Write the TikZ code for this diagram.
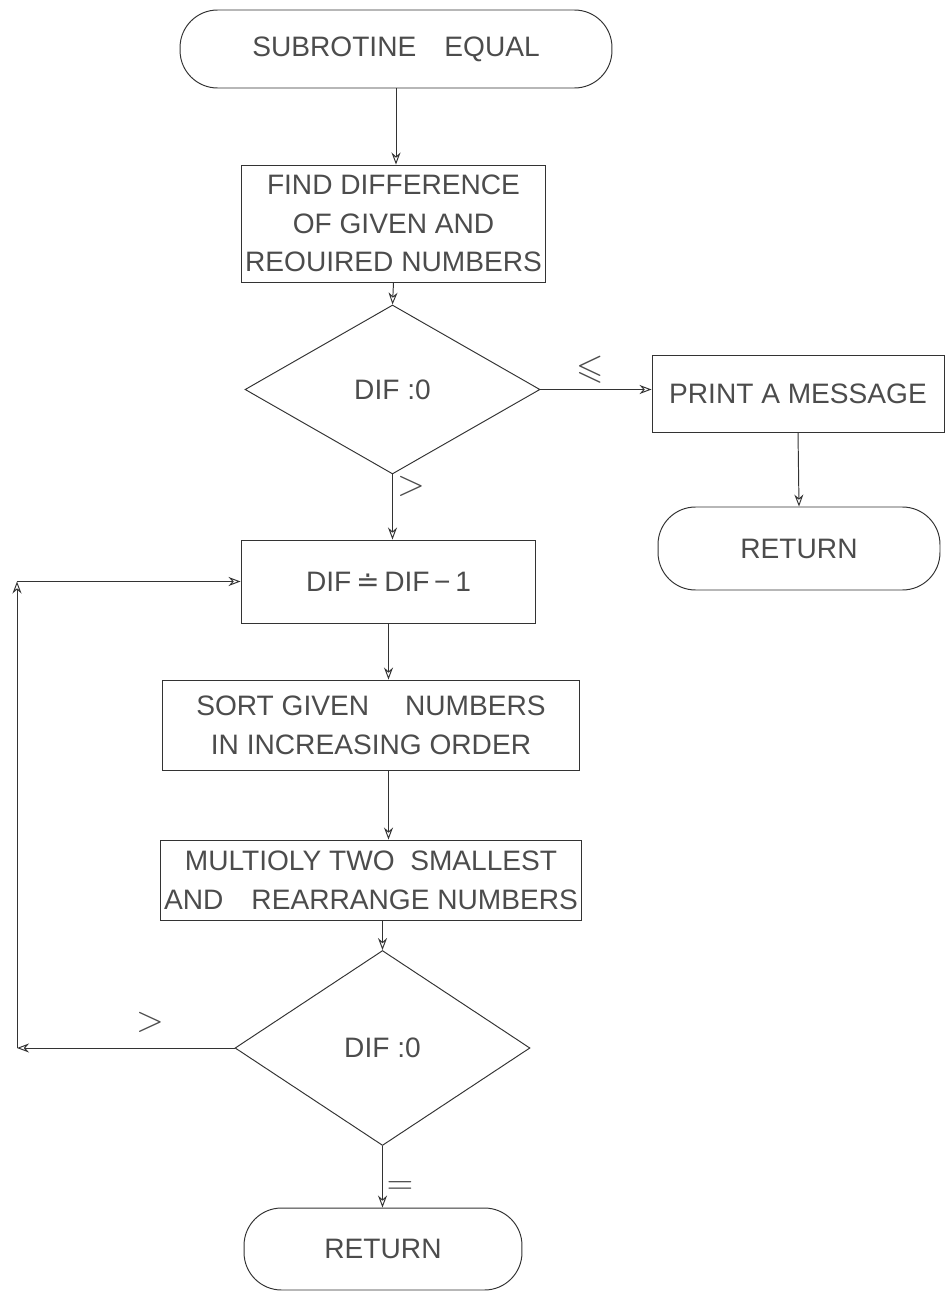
\documentclass[tikz,border=0pt]{standalone}
\usepackage{fontspec}
\usepackage{amssymb}
\setmainfont{Liberation Sans}
\newfontfamily\symfont{DejaVu Sans}
\usetikzlibrary{shapes.geometric,arrows.meta}

\begin{document}
\begin{tikzpicture}[x=0.02cm,y=-0.02cm,
			every node/.style={font=\fontsize{16}{22}\selectfont,text=black!70,inner sep=2pt},
			box/.style={draw=black!80,line width=0.55pt,rectangle,align=center},
			term/.style={box,rounded corners=0.75cm},
			test/.style={draw=black!80,line width=0.55pt,diamond,inner sep=0pt},
			arr/.style={draw=black!80,line width=0.55pt,-{Stealth[open,length=2.4mm,width=1.8mm]}},
			lbl/.style={font=\fontsize{20}{24}\selectfont}]
		\useasboundingbox (0,0) rectangle (946,1297);
		% main column
		\node[term,minimum width=8.64cm,minimum height=1.56cm] (start) at (396,49) {SUBROTINE\quad EQUAL};
		\node[box,minimum width=5.9cm,minimum height=2.34cm] (find) at (393.5,223.5)
			{FIND DIFFERENCE\\OF GIVEN AND\\REOUIRED NUMBERS};
		\node[test,minimum width=5.9cm,minimum height=3.38cm] (test1) at (392.5,389.5) {DIF :0};
		\node[box,minimum width=5.9cm,minimum height=1.66cm] (dec) at (388.5,581.5) {DIF\,{\symfont ≐}\,DIF\,−\,1};
		\node[box,minimum width=8.36cm,minimum height=1.8cm] (sort) at (371,725)
			{SORT GIVEN\quad\ NUMBERS\\IN INCREASING ORDER};
		\node[box,minimum width=8.44cm,minimum height=1.6cm] (mult) at (371,880)
			{MULTIOLY TWO\ \ SMALLEST\\AND\quad REARRANGE NUMBERS};
		\node[test,minimum width=5.9cm,minimum height=3.9cm] (test2) at (382.5,1048) {DIF :0};
		\node[term,minimum width=5.56cm,minimum height=1.64cm] (ret2) at (383,1249) {RETURN};
		% side branch
		\node[box,minimum width=5.84cm,minimum height=1.54cm] (print) at (798,393.5) {PRINT A MESSAGE};
		\node[term,minimum width=5.64cm,minimum height=1.66cm] (ret1) at (799,548.5) {RETURN};
		% loop corners
		\coordinate (lb) at (17,1048);
		\coordinate (lt) at (17,581.5);

		\draw[arr] (start.south) -- (start.south |- find.north);
		\draw[arr] (find.south) -- (test1.north);
		\draw[arr] (test1.east) -- (test1.east -| print.west);
		\draw[arr] (print.south) -- (ret1.north);
		\draw[arr] (test1.south) -- (test1.south |- dec.north);
		\draw[arr] (dec.south) -- (dec.south |- sort.north);
		\draw[arr] (dec.south |- sort.south) -- (dec.south |- mult.north);
		\draw[arr] (test2.north |- mult.south) -- (test2.north);
		\draw[arr] (test2.south) -- (test2.south |- ret2.north);
		\draw[arr] (test2.west) -- (lb);
		\draw[arr] (lb) -- (lt);
		\draw[arr] (lt) -- (dec.west);

		\node[lbl] (le) at (590,370) {$\leqslant$};
		\node[lbl] (gt1) at (411,486) {$>$};
		\node[lbl] (gt2) at (150,1022) {$>$};
		\node[lbl] (eq) at (400,1188) {$=$};
	\end{tikzpicture}
\end{document}
